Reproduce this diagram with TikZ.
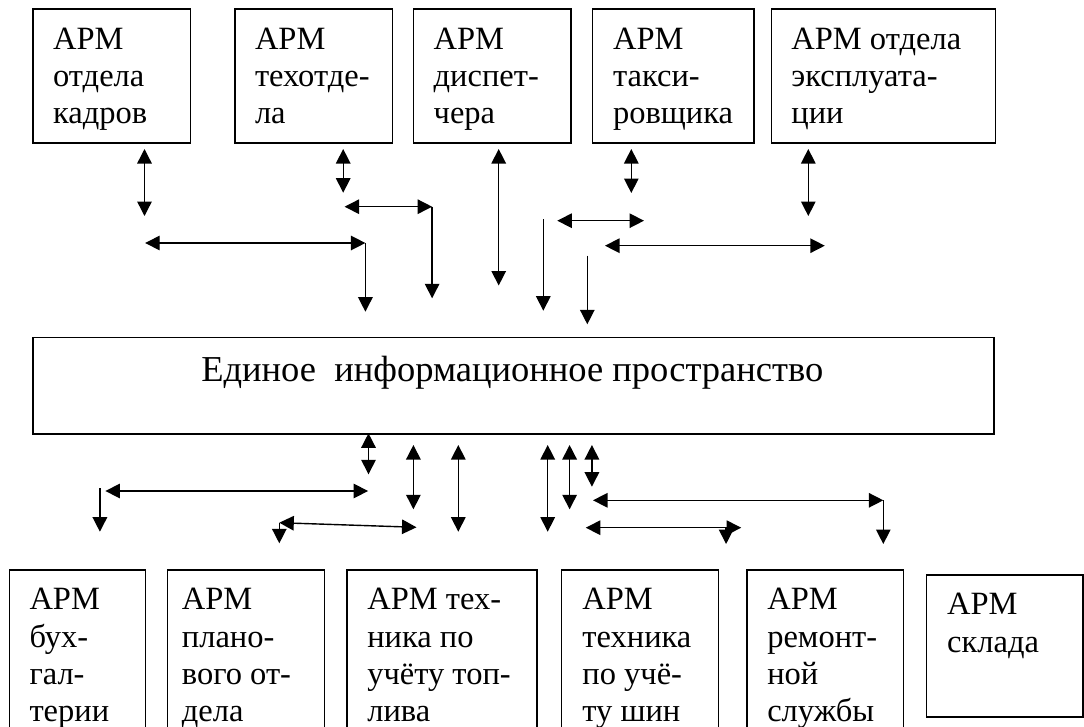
\documentclass[tikz,border=0pt]{standalone}
\usepackage{fontspec}
\setmainfont{Liberation Serif}
\newfontfamily\tnr{Liberation Serif}
\usetikzlibrary{arrows.meta}
\tikzset{
  box/.style={draw, line width=1.6pt, inner sep=0pt, anchor=north west},
  txt/.style={inner sep=0pt, anchor=north west, align=left, font=\tnr\fontsize{32.5}{37.3}\selectfont},
  midtxt/.style={inner sep=0pt, anchor=base, font=\tnr\fontsize{36.5}{40}\selectfont},
  tip/.tip={Triangle[length=14.5pt,width=14.5pt]},
  dar/.style={tip-tip, line width=1.4pt},
  sar/.style={-tip, line width=1.4pt}
}
\begin{document}
\begin{tikzpicture}[x=1pt,y=-1pt]
\useasboundingbox (0,0) rectangle (1084,726);
\clip (0,0) rectangle (1084,726);
% top boxes
\node[box, minimum width=157.7pt, minimum height=134pt] (b1) at (32.1,8) {};
\node[box, minimum width=157.6pt, minimum height=134pt] (b2) at (234,8) {};
\node[box, minimum width=157.6pt, minimum height=134pt] (b3) at (412.7,8) {};
\node[box, minimum width=161.6pt, minimum height=134pt] (b4) at (591.7,8) {};
\node[box, minimum width=224pt, minimum height=134pt] (b5) at (770.7,8) {};
\node[txt] (t1) at (52.9,27.6) {АРМ\\отдела\\кадров};
\node[txt] (t2) at (254.8,27.6) {АРМ\\техотде-\\ла};
\node[txt] (t3) at (433.5,27.6) {АРМ\\диспет-\\чера};
\node[txt] (t4) at (612.9,27.6) {АРМ\\такси-\\ровщика};
\node[txt] (t5) at (791.2,27.6) {АРМ отдела\\эксплуата-\\ции};
% central box
\node[box, minimum width=961.3pt, minimum height=96.6pt] (c) at (32.1,336.7) {};
\node[midtxt] (ct) at (512.3,381.7) {Единое\ \ информационное пространство};
% bottom boxes
\node[box, minimum width=135.9pt, minimum height=200pt] (d1) at (8.6,569.3) {};
\node[box, minimum width=156.9pt, minimum height=200pt] (d2) at (166.8,569.3) {};
\node[box, minimum width=189.8pt, minimum height=200pt] (d3) at (346.4,569.3) {};
\node[box, minimum width=156.9pt, minimum height=200pt] (d4) at (560.6,569.3) {};
\node[box, minimum width=156.8pt, minimum height=200pt] (d5) at (745.9,569.3) {};
\node[box, minimum width=156.2pt, minimum height=142pt] (d6) at (925.8,574) {};
\node[txt] (u1) at (29.3,588.3) {АРМ\\бух-\\гал-\\терии};
\node[txt] (u2) at (181.7,588.3) {АРМ\\плано-\\вого от-\\дела};
\node[txt] (u3) at (367.1,588.3) {АРМ тех-\\ника по\\учёту топ-\\лива};
\node[txt] (u4) at (582.2,588.3) {АРМ\\техника\\по учё-\\ту шин};
\node[txt] (u5) at (767.1,588.3) {АРМ\\ремонт-\\ной\\службы};
\node[txt] (u6) at (947,593.3) {АРМ\\склада};
% top connector end points
\coordinate (p1a) at (144.5,149);   \coordinate (p1b) at (144.5,216);
\coordinate (p2a) at (145.2,243);   \coordinate (p2b) at (365.4,243);  \coordinate (p2c) at (365.4,311.7);
\coordinate (p3a) at (343.2,149);   \coordinate (p3b) at (343.2,192.7);
\coordinate (p4a) at (344.6,206.7); \coordinate (p4b) at (432.1,206.7); \coordinate (p4c) at (432.1,298.3);
\coordinate (p5a) at (498.7,149);   \coordinate (p5b) at (498.7,285.5);
\coordinate (p6a) at (543.3,219.3); \coordinate (p6b) at (543.3,310.7);
\coordinate (p7a) at (557.3,220.7); \coordinate (p7b) at (644,220.7);
\coordinate (p8a) at (631.3,149);   \coordinate (p8b) at (631.3,193);
\coordinate (p9a) at (587.3,255.7); \coordinate (p9b) at (587.3,324.3);
\coordinate (p10a) at (605,245.7);  \coordinate (p10b) at (824.8,245.7);
\coordinate (p11a) at (808.3,149);  \coordinate (p11b) at (808.3,216);
\draw[dar] (p1a) -- (p1b);
\draw[dar] (p2a) -- (p2b);
\draw[sar] (p2b) -- (p2c);
\draw[dar] (p3a) -- (p3b);
\draw[dar] (p4a) -- (p4b);
\draw[sar] (p4b) -- (p4c);
\draw[dar] (p5a) -- (p5b);
\draw[sar] (p6a) -- (p6b);
\draw[dar] (p7a) -- (p7b);
\draw[dar] (p8a) -- (p8b);
\draw[sar] (p9a) -- (p9b);
\draw[dar] (p10a) -- (p10b);
\draw[dar] (p11a) -- (p11b);
% bottom connector end points
\coordinate (q1a) at (368.5,433.3); \coordinate (q1b) at (368.5,474.3);
\coordinate (q2a) at (105.4,491);   \coordinate (q2b) at (368.1,491);
\coordinate (q3a) at (99.9,488.3);  \coordinate (q3b) at (99.9,531.7);
\coordinate (q4a) at (413.4,445);   \coordinate (q4b) at (413.4,509.3);
\coordinate (q5a) at (458.3,445);   \coordinate (q5b) at (458.3,531.7);
\coordinate (q6a) at (279.3,522.7); \coordinate (q6b) at (416.5,527.3);
\coordinate (q7b) at (279.3,543.3);
\coordinate (q8a) at (547.7,445);   \coordinate (q8b) at (547.7,531.7);
\coordinate (q9a) at (569.6,445);   \coordinate (q9b) at (569.6,509.3);
\coordinate (q10a) at (591.9,445);  \coordinate (q10b) at (591.9,486.7);
\coordinate (q11a) at (593,500.3);  \coordinate (q11b) at (883.3,500.3); \coordinate (q12b) at (883.3,544);
\coordinate (q13a) at (585.8,527.7); \coordinate (q13b) at (741.2,527.7);
\coordinate (q14a) at (726.1,527.7); \coordinate (q14b) at (726.1,544);
\draw[dar] (q1a) -- (q1b);
\draw[dar] (q2a) -- (q2b);
\draw[sar] (q3a) -- (q3b);
\draw[dar] (q4a) -- (q4b);
\draw[dar] (q5a) -- (q5b);
\draw[dar] (q6a) -- (q6b);
\draw[sar] (q6a) -- (q7b);
\draw[dar] (q8a) -- (q8b);
\draw[dar] (q9a) -- (q9b);
\draw[dar] (q10a) -- (q10b);
\draw[dar] (q11a) -- (q11b);
\draw[sar] (q11b) -- (q12b);
\draw[dar] (q13a) -- (q13b);
\draw[sar] (q14a) -- (q14b);
\end{tikzpicture}
\end{document}
